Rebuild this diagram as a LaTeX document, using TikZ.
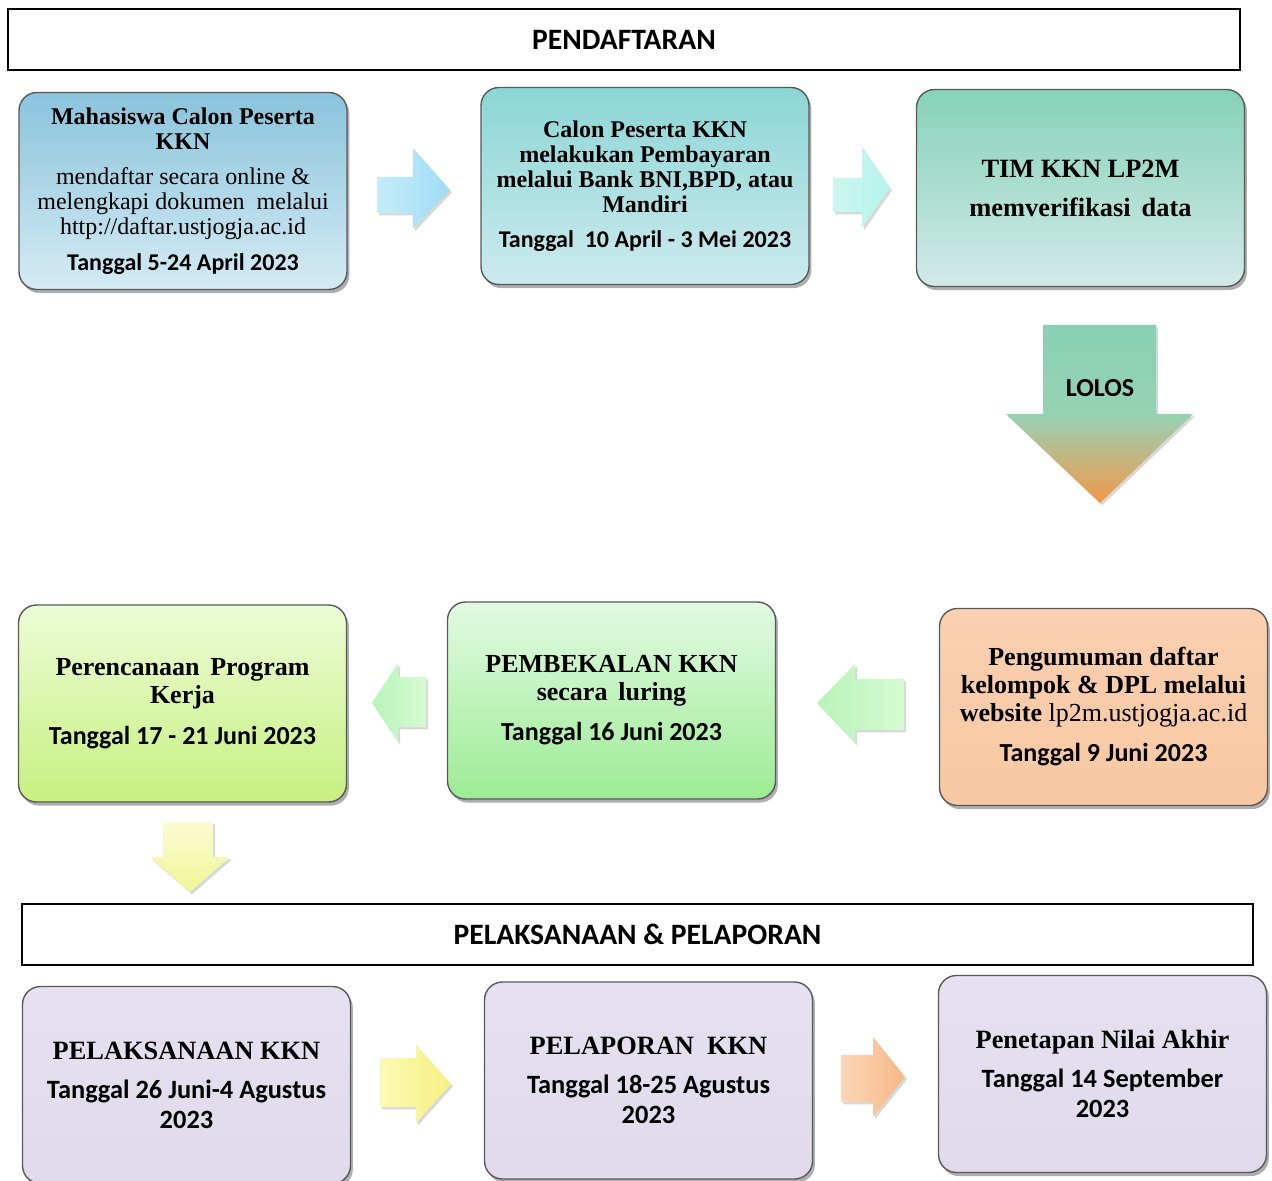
\documentclass[tikz,border=0pt]{standalone}
\usepackage{fontspec}
\setmainfont{Liberation Serif}
\newfontfamily\calfont{Carlito}
\usetikzlibrary{shadows}
\definecolor{bAt}{RGB}{138,196,220}\definecolor{bAb}{RGB}{212,235,244}
\definecolor{bBt}{RGB}{140,214,214}\definecolor{bBb}{RGB}{204,234,238}
\definecolor{bCt}{RGB}{134,210,184}\definecolor{bCb}{RGB}{210,234,232}
\definecolor{bDt}{RGB}{236,252,214}\definecolor{bDb}{RGB}{198,240,128}
\definecolor{bEt}{RGB}{226,250,226}\definecolor{bEb}{RGB}{156,236,148}
\definecolor{bFt}{RGB}{250,208,176}\definecolor{bFb}{RGB}{248,200,162}
\definecolor{bGt}{RGB}{230,225,240}\definecolor{bGb}{RGB}{224,218,234}
\definecolor{arBlueL}{RGB}{196,236,250}\definecolor{arBlueR}{RGB}{160,220,244}
\definecolor{arCyanL}{RGB}{205,246,240}\definecolor{arCyanR}{RGB}{180,244,236}
\definecolor{lolG}{RGB}{136,208,180}\definecolor{lolM}{RGB}{150,210,180}\definecolor{lolO}{RGB}{243,152,74}
\definecolor{arGrL}{RGB}{184,244,184}\definecolor{arGrR}{RGB}{214,250,210}
\definecolor{arYeT}{RGB}{250,252,210}\definecolor{arYeB}{RGB}{240,246,150}
\definecolor{arYe2L}{RGB}{252,250,180}\definecolor{arYe2R}{RGB}{246,240,130}
\definecolor{arOrL}{RGB}{251,214,184}\definecolor{arOrR}{RGB}{247,184,134}
\begin{document}
\begin{tikzpicture}[x=0.5pt,y=-0.5pt,
  stepbox/.style={draw=black!65, line width=0.7pt, rounded corners=9pt,
    minimum width=164pt, minimum height=98.5pt, align=center, inner sep=2pt,
    drop shadow={shadow xshift=1.2pt, shadow yshift=-1.8pt, opacity=0.45, fill=black!70}},
  header/.style={draw=black, line width=1.1pt, fill=white, minimum height=30.5pt,
    font=\calfont\bfseries\fontsize{14.8}{16}\selectfont},
  blockarrow/.style={drop shadow={shadow xshift=1pt, shadow yshift=-1.2pt, opacity=0.25, fill=black!60}},
  ser/.style={font=\fontsize{12}{12.5}\selectfont},
]
\useasboundingbox (0,0) rectangle (1272,1181);
\fill[white] (0,0) rectangle (1272,1181);

% headers
\node[header, minimum width=616pt] (h1) at (624,39.5) {PENDAFTARAN};
\node[header, minimum width=615.5pt] (h2) at (637.5,934.5) {PELAKSANAAN \& PELAPORAN};

% row 1
\node[stepbox, top color=bAt, bottom color=bAb, ser] (A) at (183,191)
 {\bfseries Mahasiswa Calon Peserta\\ \bfseries KKN\\[5pt]
  mendaftar secara online \&\\ melengkapi dokumen\ \ melalui\\ http://daftar.ustjogja.ac.id\\[5.5pt]
  {\calfont\bfseries Tanggal 5-24 April 2023}};
\node[stepbox, top color=bBt, bottom color=bBb, ser] (B) at (645,186)
 {\bfseries Calon Peserta KKN\\ \bfseries melakukan Pembayaran\\ \bfseries melalui Bank BNI,BPD, atau\\ \bfseries Mandiri\\[5pt]
  {\calfont\bfseries Tanggal\ \ 10 April - 3 Mei 2023}};
\node[stepbox, top color=bCt, bottom color=bCb, font=\fontsize{13.2}{19.5}\selectfont\bfseries] (C) at (1080.5,188)
 {TIM KKN LP2M\\ memverifikasi\ \,data};

% row 2
\node[stepbox, top color=bFt, bottom color=bFb, font=\fontsize{13}{14}\selectfont] (F) at (1103.5,707)
 {\bfseries Pengumuman daftar\\ \bfseries kelompok \& DPL melalui\\ \textbf{website} lp2m.ustjogja.ac.id\\[6pt]
  {\calfont\bfseries Tanggal 9 Juni 2023}};
\node[stepbox, top color=bEt, bottom color=bEb, font=\fontsize{13}{14}\selectfont] (E) at (611.5,700.5)
 {\bfseries PEMBEKALAN KKN\\ \bfseries secara\ \,luring\\[6pt]
  {\calfont\bfseries Tanggal 16 Juni 2023}};
\node[stepbox, top color=bDt, bottom color=bDb, font=\fontsize{13}{14}\selectfont] (D) at (182.5,703.5)
 {\bfseries Perencanaan\ \,Program\\ \bfseries Kerja\\[6.5pt]
  {\calfont\bfseries Tanggal 17 - 21 Juni 2023}};

% row 3
\node[stepbox, top color=bGt, bottom color=bGb, font=\fontsize{13.2}{15}\selectfont] (G) at (186.5,1085)
 {\bfseries PELAKSANAAN KKN\\[4.5pt]
  {\calfont\bfseries Tanggal 26 Juni-4 Agustus}\\ {\calfont\bfseries 2023}};
\node[stepbox, top color=bGt, bottom color=bGb, font=\fontsize{13.2}{15}\selectfont] (H) at (648.5,1080.5)
 {\bfseries PELAPORAN\ \ KKN\\[4.5pt]
  {\calfont\bfseries Tanggal 18-25 Agustus}\\ {\calfont\bfseries 2023}};
\node[stepbox, top color=bGt, bottom color=bGb, font=\fontsize{13.2}{15}\selectfont] (I) at (1102.5,1074)
 {\bfseries Penetapan Nilai Akhir\\[4.5pt]
  {\calfont\bfseries Tanggal 14 September}\\ {\calfont\bfseries 2023}};

% block arrows
\shade[blockarrow, left color=arBlueL, right color=arBlueR]
 (377,177) -- (413,177) -- (413,148) -- (450,190) -- (413,229) -- (413,213) -- (377,213) -- cycle;
\shade[blockarrow, left color=arCyanL, right color=arCyanR]
 (833,178) -- (862,178) -- (862,147) -- (890,188) -- (862,228) -- (862,212) -- (833,212) -- cycle;
\shade[blockarrow, top color=lolG, bottom color=lolO, middle color=lolM]
 (1043,325) -- (1156,325) -- (1156,414) -- (1193,414) -- (1100,503) -- (1006,414) -- (1043,414) -- cycle;
\node[font=\calfont\bfseries\fontsize{13}{14}\selectfont] (lolos) at (1100,388) {LOLOS};
\shade[blockarrow, left color=arGrL, right color=arGrR]
 (904,679) -- (855,679) -- (855,664) -- (817,703) -- (855,743) -- (855,730) -- (904,730) -- cycle;
\shade[blockarrow, left color=arGrL, right color=arGrR]
 (426,677) -- (398,677) -- (398,663) -- (372,703) -- (398,742) -- (398,727) -- (426,727) -- cycle;
\shade[blockarrow, top color=arYeT, bottom color=arYeB]
 (163,822) -- (213,822) -- (213,857) -- (230,857) -- (190,892) -- (150,857) -- (163,857) -- cycle;
\shade[blockarrow, left color=arYe2L, right color=arYe2R]
 (380,1058) -- (416,1058) -- (416,1045) -- (451,1084) -- (416,1123) -- (416,1107) -- (380,1107) -- cycle;
\shade[blockarrow, left color=arOrL, right color=arOrR]
 (841,1055) -- (873,1055) -- (873,1037) -- (905,1077) -- (873,1117) -- (873,1102) -- (841,1102) -- cycle;
\end{tikzpicture}
\end{document}
